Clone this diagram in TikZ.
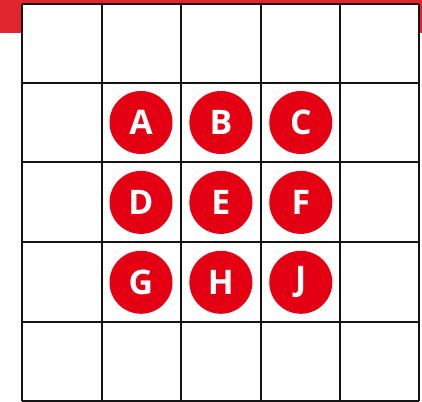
\documentclass[tikz,border=0pt]{standalone}
\usepackage{fontspec}
\setmainfont{Open Sans}
\usetikzlibrary{positioning}
\definecolor{banner}{RGB}{225,38,48}
\definecolor{dotred}{RGB}{228,0,18}
\definecolor{ink}{RGB}{20,20,20}
\tikzset{
  cellline/.style={draw=ink,line width=2bp},
  dot/.style={circle,fill=dotred,minimum size=63bp,inner sep=0pt,text=white,
    font=\fontsize{34}{34}\selectfont\bfseries},
}

\begin{document}
\begin{tikzpicture}[x=1bp,y=1bp]
    \useasboundingbox (0,0) rectangle (422,402);
    \fill[banner] (0,402) rectangle (422,369);
    \fill[white] (22,1) rectangle (419,398);
    % grid
    \foreach \x in {22,101.5,181,260.5,340,419} \draw[cellline] (\x,1) -- (\x,398);
    \foreach \y in {1,80,159.5,240,319,398} \draw[cellline] (22,\y) -- (419,\y);
    % lettered dots
    \node[dot] (A) at (141,279.5) {A};
    \node[dot,right=16.5bp of A] (B) {B};
    \node[dot,right=16.5bp of B] (C) {C};
    \node[dot,below=16.5bp of A] (D) {D};
    \node[dot,right=16.5bp of D] (E) {E};
    \node[dot,right=16.5bp of E] (F) {F};
    \node[dot,below=16.5bp of D] (G) {G};
    \node[dot,right=16.5bp of G] (H) {H};
    \node[dot,right=16.5bp of H] (J) {J};
  \end{tikzpicture}
\end{document}
